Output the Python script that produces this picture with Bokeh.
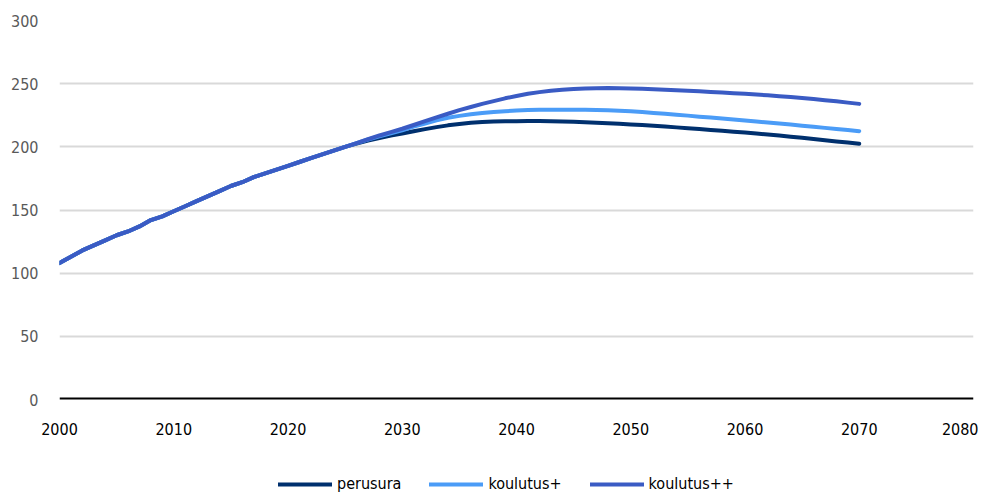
from bokeh.plotting import figure
from bokeh.layouts import column
from bokeh.models import ColumnDataSource, Legend, LegendItem, FixedTicker, Span
from bokeh.embed import file_html
from bokeh.resources import INLINE

years = list(range(2000, 2071))

perusura = [108, 113, 118, 122, 126, 130, 133, 137, 142, 145,
            149, 153, 157, 161, 165, 169, 172, 176, 179, 182,
            185, 188, 191, 194, 197, 200, 202.5, 205, 207, 209,
            210.5, 212.3, 214, 215.6, 217, 218, 219, 219.6, 220, 220.2,
            220.3, 220.4, 220.4, 220.3, 220.1, 219.8, 219.5, 219.1, 218.7, 218.2,
            217.7, 217.2, 216.6, 216.0, 215.4, 214.8, 214.1, 213.4, 212.7, 212.0,
            211.3, 210.5, 209.7, 208.9, 208.0, 207.1, 206.2, 205.3, 204.3, 203.4,
            202.4]

koulutus_p = [108, 113, 118, 122, 126, 130, 133, 137, 142, 145,
              149, 153, 157, 161, 165, 169, 172, 176, 179, 182,
              185, 188, 191, 194, 197, 200, 203, 205.8, 208.3, 210.7,
              213, 216, 218.5, 221, 223, 224.5, 225.8, 226.8, 227.6, 228.2,
              228.8, 229.1, 229.3, 229.4, 229.4, 229.4, 229.3, 229.1, 228.9, 228.6,
              228.2, 227.5, 226.8, 226.1, 225.4, 224.7, 223.9, 223.2, 222.4, 221.6,
              220.8, 220.0, 219.2, 218.4, 217.6, 216.7, 215.9, 215.0, 214.1, 213.3,
              212.4]

koulutus_pp = [108, 113, 118, 122, 126, 130, 133, 137, 142, 145,
               149, 153, 157, 161, 165, 169, 172, 176, 179, 182,
               185, 188, 191, 194, 197, 200, 203, 206, 209, 211.7,
               214.3, 217.3, 220.3, 223.3, 226.2, 229, 231.5, 234, 236.2, 238.4,
               240.3, 242, 243.3, 244.4, 245.2, 245.8, 246.2, 246.4, 246.5, 246.4,
               246.2, 245.9, 245.6, 245.2, 244.8, 244.4, 244.0, 243.5, 243.0, 242.5,
               242.0, 241.4, 240.8, 240.1, 239.4, 238.6, 237.8, 236.9, 236.0, 235.0,
               234.0]

series_names = ["perusura", "koulutus+", "koulutus++"]
series_colors = ["#00306e", "#4b9cf7", "#3a5bc4"]

x_ticks = [2000, 2010, 2020, 2030, 2040, 2050, 2060, 2070, 2080]
y_ticks = [0, 50, 100, 150, 200, 250, 300]

FONT = "DejaVu Sans Condensed"

p = figure(width=978, height=447, output_backend="svg", toolbar_location=None,
           x_range=(2000, 2080), y_range=(0, 300),
           min_border_left=59, min_border_right=5, min_border_top=20, min_border_bottom=48)
p.outline_line_color = None
p.background_fill_color = "white"
p.border_fill_color = "white"

p.xaxis.ticker = FixedTicker(ticks=x_ticks)
p.yaxis.ticker = FixedTicker(ticks=y_ticks)
for ax in (p.xaxis[0], p.yaxis[0]):
    ax.axis_line_color = None
    ax.major_tick_line_color = None
    ax.minor_tick_line_color = None
    ax.major_tick_out = 0
    ax.major_tick_in = 0
    ax.minor_tick_out = 0
    ax.minor_tick_in = 0
    ax.major_label_text_font = FONT
    ax.major_label_text_font_size = "16px"
p.xaxis.major_label_text_color = "#000000"
p.xaxis.major_label_standoff = 23
p.yaxis.major_label_text_color = "#595959"
p.yaxis.major_label_standoff = 21

p.xgrid.grid_line_color = None
p.ygrid.grid_line_color = "#d9d9d9"
p.ygrid.grid_line_width = 2

zero = Span(location=0, dimension="width", line_color="black", line_width=4)
p.add_layout(zero)

src = ColumnDataSource(dict(x=years, a=perusura, b=koulutus_p, c=koulutus_pp))
for col, color in zip(["a", "b", "c"], series_colors):
    p.line("x", col, source=src, line_color=color, line_width=4,
           line_cap="round", line_join="round")

# legend strip below the chart (proxy lines sit outside the visible range)
lg = figure(width=978, height=46, output_backend="svg", toolbar_location=None,
            x_axis_type=None, y_axis_type=None, x_range=(0, 1), y_range=(0, 1),
            min_border_left=0, min_border_right=0, min_border_top=0, min_border_bottom=0)
lg.outline_line_color = None
lg.xgrid.grid_line_color = None
lg.ygrid.grid_line_color = None
proxies = []
for color in series_colors:
    proxies.append(lg.line(x=[-10, -9], y=[-10, -10], line_color=color, line_width=4,
                           line_cap="round"))

legend = Legend(items=[LegendItem(label=n, renderers=[r]) for n, r in zip(series_names, proxies)],
                orientation="horizontal", location=(219, 0),
                label_text_font=FONT, label_text_font_size="16px", label_text_color="#000000",
                glyph_width=54, glyph_height=14, label_height=14, label_standoff=5,
                spacing=28, padding=0, margin=0,
                border_line_color=None, background_fill_alpha=0)
lg.add_layout(legend, "center")

layout = column(p, lg, spacing=0)
open("out.html", "w").write(file_html(layout, INLINE))
